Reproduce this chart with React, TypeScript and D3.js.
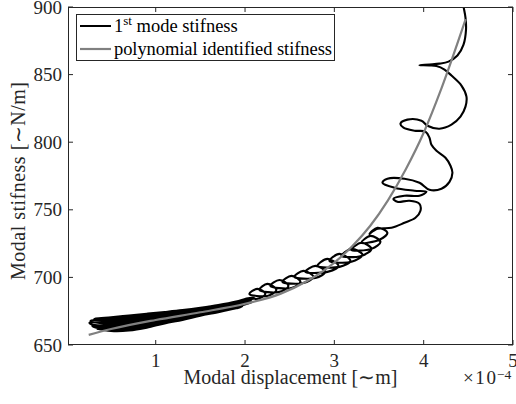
import React from 'react';
import * as d3 from 'd3';

const xTicks = [1, 2, 3, 4, 5];
const yTicks = [650, 700, 750, 800, 850, 900];

// 1st mode stiffness trajectory (displacement x1e-4 m, stiffness N/m)
const modeDisp = [
  // dense band: back-and-forth sweeps
  0.34, 0.5, 0.7, 0.9, 1.1, 1.3, 1.5, 1.7, 1.9, 1.95,
  1.97, 1.9, 1.7, 1.5, 1.3, 1.1, 0.9, 0.7, 0.5, 0.31,
  0.29, 0.5, 0.7, 0.9, 1.1, 1.3, 1.5, 1.7, 1.9, 2.08,
  2.07, 1.9, 1.7, 1.5, 1.3, 1.1, 0.9, 0.7, 0.5, 0.27,
  0.26, 0.5, 0.7, 0.9, 1.1, 1.3, 1.5, 1.7, 1.9, 1.96,
  1.97, 1.9, 1.7, 1.5, 1.3, 1.1, 0.9, 0.7, 0.5, 0.27,
  0.28, 0.5, 0.7, 0.9, 1.1, 1.3, 1.5, 1.7, 1.9, 2.1,
  2.09, 1.9, 1.7, 1.5, 1.3, 1.1, 0.9, 0.7, 0.5, 0.31,
  0.33, 0.5, 0.7, 0.9, 1.1, 1.3, 1.5, 1.7, 1.9, 2.05,
  // small loops
  2.138, 2.228, 2.138, 2.049,
  2.250, 2.351, 2.250, 2.161,
  2.385, 2.486, 2.385, 2.284,
  2.520, 2.620, 2.520, 2.419,
  2.654, 2.766, 2.654, 2.553,
  2.788, 2.900, 2.788, 2.676,
  2.922, 3.046, 2.922, 2.811,
  3.057, 3.180, 3.057, 2.945,
  3.191, 3.315, 3.191, 3.079,
  3.303, 3.415, 3.303, 3.191,
  3.415, 3.516, 3.404, 3.303,
  3.505, 3.594, 3.482, 3.393,
  // large excursions
  3.482, 3.639, 3.785, 3.908, 3.964, 3.953, 3.841, 3.706, 3.661, 3.785, 3.953, 4.031, 3.897, 3.673,
  3.539, 3.594, 3.785, 3.953, 4.065, 4.199, 4.289, 4.322, 4.300, 4.244, 4.143, 4.087, 4.065, 4.020,
  3.897, 3.774, 3.740, 3.818, 3.975, 4.042, 4.177, 4.311, 4.412, 4.468, 4.479, 4.423, 4.311, 4.233,
  4.143, 4.065, 3.953, 4.065, 4.177, 4.278, 4.378, 4.446, 4.474, 4.468, 4.446, 4.435,
];
const modeStiff = [
  662.0, 660.4, 660.7, 662.8, 666.0, 668.6, 671.6, 674.3, 677.2, 678.0,
  678.9, 677.8, 675.0, 672.3, 669.5, 667.1, 664.1, 662.1, 661.7, 663.3,
  664.4, 662.9, 663.5, 665.4, 668.1, 670.4, 673.1, 675.6, 678.4, 681.7,
  682.2, 679.0, 676.3, 673.8, 671.3, 669.2, 666.7, 664.9, 664.2, 665.6,
  666.6, 665.5, 666.3, 668.0, 670.2, 672.2, 674.6, 676.9, 679.7, 680.6,
  681.2, 680.3, 677.6, 675.3, 673.1, 671.3, 669.2, 667.6, 666.7, 667.4,
  668.2, 668.0, 669.0, 670.5, 672.3, 674.0, 676.0, 678.2, 680.9, 684.5,
  685.0, 681.5, 678.9, 676.8, 674.9, 673.4, 671.8, 670.4, 669.2, 668.9,
  669.6, 670.5, 671.8, 673.1, 674.4, 675.8, 677.5, 679.5, 682.1, 684.8,
  684.1, 687.8, 691.5, 687.8,
  686.3, 690.7, 695.2, 690.7,
  689.3, 693.7, 698.1, 693.7,
  692.2, 696.7, 701.1, 696.7,
  695.9, 700.4, 704.8, 700.4,
  699.6, 704.1, 708.5, 704.1,
  704.1, 708.5, 713.7, 708.5,
  707.8, 712.2, 717.4, 712.2,
  711.5, 716.7, 721.1, 715.9,
  715.9, 721.1, 725.6, 720.4,
  721.1, 726.3, 730.7, 725.6,
  727.8, 733.0, 736.7, 732.2,
  735.9, 736.7, 740.4, 744.1, 749.3, 754.4, 756.7, 755.9, 758.1, 760.4, 760.4, 763.3, 764.1, 766.3,
  770.0, 773.0, 773.0, 770.0, 764.8, 765.6, 770.7, 777.4, 782.6, 788.5, 793.7, 798.1, 803.3, 807.8,
  808.5, 810.7, 813.7, 816.7, 815.9, 812.2, 810.0, 813.0, 818.9, 826.3, 833.7, 841.9, 849.3, 853.7,
  856.3, 856.8, 857.0, 857.5, 858.1, 859.6, 864.1, 872.2, 883.3, 892.2, 900.4, 905.5,
];

// polynomial identified stiffness
const polyDisp = [0.25, 0.5, 1.0, 1.5, 2.0, 2.4, 2.7, 3.0, 3.2, 3.4, 3.6, 3.8, 4.0, 4.2, 4.47];
const polyStiff = [657.5, 661.8, 668.5, 674.2, 680.5, 688, 697.5, 711, 723, 738, 757, 780, 807, 840, 891];

const FONT = "'Liberation Serif', 'Times New Roman', serif";
const AX = '#262626';

export default function App() {
  const W = 516, H = 404;
  const L = 68, R = 513, T = 7, B = 345;
  const x = d3.scaleLinear().domain([0.018, 5]).range([L, R]);
  const y = d3.scaleLinear().domain([650, 900]).range([B, T]);

  const blackLine = d3
    .line<number>()
    .x((i) => x(modeDisp[i]))
    .y((i) => y(modeStiff[i]))
    .curve(d3.curveCatmullRom.alpha(0.5));
  const grayLine = d3
    .line<number>()
    .x((i) => x(polyDisp[i]))
    .y((i) => y(polyStiff[i]))
    .curve(d3.curveMonotoneX);

  const bIdx = d3.range(modeDisp.length);
  const gIdx = d3.range(polyDisp.length);
  const fs = 19;

  return (
    <svg
      width={W}
      height={H}
      style={{ position: 'absolute', left: 0, top: 0, background: '#fff', fontFamily: FONT }}
    >
      <defs>
        <clipPath id="plotClip">
          <rect x={L} y={T} width={R - L} height={B - T} />
        </clipPath>
      </defs>
      <rect x={0} y={0} width={W} height={H} fill="#fff" />

      <g clipPath="url(#plotClip)">
        <path d={blackLine(bIdx) || ''} fill="none" stroke="#000" strokeWidth={2.1} strokeLinejoin="round" />
        <path d={grayLine(gIdx) || ''} fill="none" stroke="#808080" strokeWidth={2.2} />
      </g>

      {/* axes box */}
      <rect x={L + 0.5} y={T + 0.5} width={R - L - 1} height={B - T - 1} fill="none" stroke={AX} strokeWidth={1} />

      {xTicks.map((t) => (
        <g key={'xt' + t}>
          <line x1={x(t)} x2={x(t)} y1={B} y2={B - 5} stroke={AX} strokeWidth={1} />
          <line x1={x(t)} x2={x(t)} y1={T} y2={T + 5} stroke={AX} strokeWidth={1} />
          <text x={x(t)} y={367} textAnchor="middle" fontSize={fs} fill={AX}>
            {t}
          </text>
        </g>
      ))}
      {yTicks.map((t) => (
        <g key={'yt' + t}>
          <line x1={L} x2={L + 5} y1={y(t)} y2={y(t)} stroke={AX} strokeWidth={1} />
          <line x1={R} x2={R - 5} y1={y(t)} y2={y(t)} stroke={AX} strokeWidth={1} />
          <text x={62} y={y(t) + 6.5} textAnchor="end" fontSize={fs} fill={AX}>
            {t}
          </text>
        </g>
      ))}

      <text x={290.5} y={384} textAnchor="middle" fontSize={20} fill={AX} textLength={214} lengthAdjust="spacing">
        Modal displacement [∼m]
      </text>
      <text x={463} y={384} fontSize={fs} fill={AX} textLength={33} lengthAdjust="spacing">
        ×10
      </text>
      <text x={497} y={379} fontSize={13.5} fill={AX}>
        −4
      </text>
      <text
        transform="translate(25,181) rotate(-90)"
        textAnchor="middle"
        fontSize={20}
        fill={AX}
        textLength={198}
        lengthAdjust="spacing"
      >
        Modal stifness [∼N/m]
      </text>

      {/* legend */}
      <rect x={76.5} y={14.5} width={258} height={46} fill="#fff" stroke={AX} strokeWidth={1} />
      <line x1={80} x2={111} y1={26} y2={26} stroke="#000" strokeWidth={2} />
      <text x={114} y={32} fontSize={18.5} fill="#000">
        1<tspan fontSize={13} dy={-7}>st</tspan>
        <tspan dy={7}> mode stifness</tspan>
      </text>
      <line x1={80} x2={111} y1={49} y2={49} stroke="#808080" strokeWidth={2.2} />
      <text x={114} y={55} fontSize={18.5} fill="#000" textLength={218} lengthAdjust="spacing">
        polynomial identified stifness
      </text>
    </svg>
  );
}
